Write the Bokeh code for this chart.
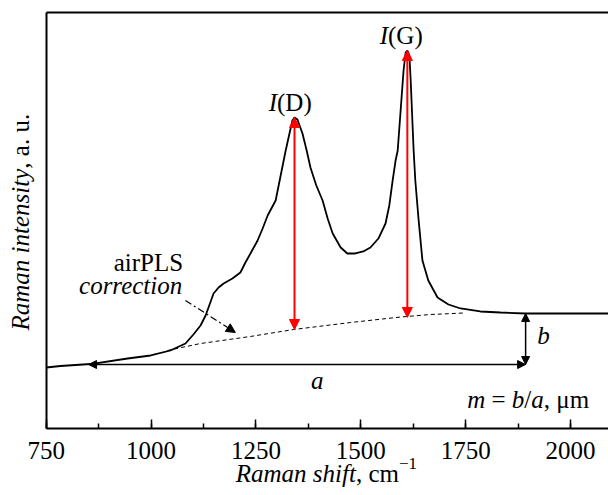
import math
from bokeh.plotting import figure
from bokeh.models import Range1d, SingleIntervalTicker, Label, Arrow, NormalHead, LinearAxis
from bokeh.embed import file_html
from bokeh.resources import INLINE

# ---------------- data ----------------
shift = [750, 784, 856, 944, 999, 1046, 1082, 1101, 1118, 1130, 1137, 1149, 1161, 1173,
         1194, 1213, 1225, 1237, 1254, 1266, 1278, 1297, 1309, 1321, 1330, 1337, 1342,
         1349, 1361, 1371, 1380, 1394, 1409, 1421, 1433, 1452, 1468, 1487, 1506, 1523,
         1542, 1559, 1568, 1576, 1583, 1588, 1595, 1602, 1607, 1611, 1616, 1619, 1623,
         1626, 1630, 1638, 1647, 1661, 1683, 1709, 1738, 1785, 1833, 1893, 1976, 2090]
intensity = [14.66, 15.02, 15.50, 16.83, 17.55, 18.75, 20.43, 22.60, 24.76, 27.16, 29.09,
             32.45, 33.89, 34.86, 36.06, 37.50, 39.90, 42.07, 45.19, 48.08, 51.20, 54.81,
             60.82, 66.83, 70.91, 74.04, 74.76, 74.28, 70.91, 66.83, 62.74, 58.41, 54.81,
             50.48, 46.88, 43.51, 42.07, 42.07, 42.55, 43.51, 45.67, 49.28, 53.61, 59.62,
             64.42, 66.83, 76.44, 86.06, 90.38, 90.87, 89.66, 83.65, 74.04, 66.83, 59.62,
             50.00, 40.38, 35.58, 31.49, 29.81, 28.85, 28.13, 27.88, 27.64, 27.64, 27.64]

# airPLS baseline
base_shift = [1039, 1118, 1237, 1340, 1476, 1595, 1666, 1745]
base_int = [18.75, 20.43, 22.12, 23.80, 25.48, 26.80, 27.40, 27.76]

# band intensities I(D), I(G)
peak_labels = ["D", "G"]
peak_shift = [1342, 1611]
peak_int = [74.76, 90.87]
peak_base = [23.80, 26.70]

# a / b construction
a_from, a_to, a_level = 851, 1893, 15.38
b_top = 27.64

# axis
x_first, y_top = 750, 100
tick_step = 250

# ---------------- figure geometry ----------------
W, H = 608, 495
PXX = 0.41944          # px per cm^-1
PXY = 4.16             # px per intensity unit
X0 = x_first - 45.7 / PXX
X1 = X0 + W / PXX
Y1 = 428 / PXY
Y0 = Y1 - H / PXY

p = figure(width=W, height=H, x_range=Range1d(X0, X1), y_range=Range1d(Y0, Y1),
           output_backend="svg", toolbar_location=None,
           min_border_left=0, min_border_right=0, min_border_top=0, min_border_bottom=0)
p.outline_line_color = None
p.grid.visible = False
p.background_fill_color = "white"

SERIF = "Liberation Serif"

xa = p.xaxis[0]
xa.fixed_location = 0
xa.bounds = (x_first, X1)
xa.ticker = SingleIntervalTicker(interval=tick_step, num_minor_ticks=2)
xa.axis_line_width = 2
xa.axis_line_color = "black"
xa.major_tick_in = 9
xa.major_tick_out = 0
xa.minor_tick_in = 5
xa.minor_tick_out = 0
xa.major_tick_line_width = 1.5
xa.minor_tick_line_width = 1.5
xa.major_tick_line_color = "black"
xa.minor_tick_line_color = "black"
xa.major_label_text_font = SERIF
xa.major_label_text_font_size = "25px"
xa.major_label_text_color = "black"
xa.major_label_standoff = 13

ya = p.yaxis[0]
ya.fixed_location = x_first
ya.bounds = (0, y_top)
ya.ticker = []
ya.axis_line_width = 2
ya.axis_line_color = "black"
ya.major_tick_line_color = None
ya.minor_tick_line_color = None
ya.major_label_text_font_size = "0px"

top = LinearAxis(fixed_location=y_top, bounds=(x_first, X1), ticker=[],
                 axis_line_width=2, axis_line_color="black",
                 major_tick_line_color=None, minor_tick_line_color=None,
                 major_label_text_font_size="0px")
p.add_layout(top, "above")

# spectrum and baseline
p.line(shift, intensity, line_color="black", line_width=1.8)
p.line(base_shift, base_int, line_color="black", line_width=1, line_dash="4 3")

# red arrows I(D), I(G)
for xs, yt, yb in zip(peak_shift, peak_int, peak_base):
    p.add_layout(Arrow(x_start=xs, y_start=yb, x_end=xs, y_end=yt,
                       line_color="red", line_width=2,
                       start=NormalHead(size=10, fill_color="red", line_color="red"),
                       end=NormalHead(size=10, fill_color="red", line_color="red")))

# a arrow
p.add_layout(Arrow(x_start=a_from, y_start=a_level, x_end=a_to, y_end=a_level,
                   line_color="black", line_width=1.5,
                   start=NormalHead(size=8, fill_color="black", line_color="black"),
                   end=NormalHead(size=8, fill_color="black", line_color="black")))
# b arrow
p.add_layout(Arrow(x_start=a_to, y_start=a_level, x_end=a_to, y_end=b_top,
                   line_color="black", line_width=1.5,
                   start=NormalHead(size=8, fill_color="black", line_color="black"),
                   end=NormalHead(size=8, fill_color="black", line_color="black")))
# airPLS pointer (dash-dot)
p.add_layout(Arrow(x_start=1082, y_start=30.77, x_end=1201, y_end=23.08,
                   line_color="black", line_width=1.2, line_dash="7 3 2 3",
                   end=NormalHead(size=9, fill_color="black", line_color="black")))

# ---------------- rich text helper ----------------
REG = {" ": 250, "(": 333, ")": 333, ",": 250, ".": 250, "/": 278, "=": 564, "\u2212": 564,
       "1": 500, "a": 444, "c": 444, "m": 778, "u": 500, "D": 722, "G": 722, "L": 611,
       "P": 556, "S": 556, "i": 278, "r": 333, "\u03bc": 500}
ITA = {" ": 250, "I": 333, "R": 611, "a": 500, "m": 722, "n": 500, "s": 389, "h": 500,
       "i": 278, "f": 278, "t": 278, "e": 444, "y": 444, "c": 444, "o": 500, "r": 389,
       "b": 500}
BL = 8  # px correction of the rendered alphabetic baseline


def width(text, italic, size):
    table = ITA if italic else REG
    return sum(table.get(ch, 500) for ch in text) / 1000.0 * size


def rich(parts, x, y, align="left", vertical=False):
    # parts: (text, italic, size, raise_px)
    total = sum(width(t, it, s) for t, it, s, _ in parts)
    off = 0.0
    if align == "center":
        off = -total / 2
    elif align == "right":
        off = -total
    for t, it, s, dy in parts:
        core = t.strip(" ")
        lead = width(t[:len(t) - len(t.lstrip(" "))], it, s)
        o = off + lead
        if vertical:
            lx, ly = x - (dy + BL) / PXX, y + o / PXY
            ang = math.pi / 2
        else:
            lx, ly = x + o / PXX, y + (dy + BL) / PXY
            ang = 0
        p.add_layout(Label(x=lx, y=ly, text=core, text_font=SERIF,
                           text_font_style="italic" if it else "normal",
                           text_font_size=f"{s}px", text_color="black",
                           text_align="left", text_baseline="alphabetic", angle=ang))
        off += width(t, it, s)


FS = 25
for name, xs, yl in zip(peak_labels, [1280.5, 1545.1], [76.44, 92.55]):
    rich([("I", True, FS, 0), ("(" + name + ")", False, FS, 0)], xs, yl)

rich([("airPLS", False, FS, 0)], 1076.6, 37.98, align="right")
rich([("correction", True, FS, 0)], 1076.6, 32.45, align="right")
rich([("a", True, FS, 0)], 1396, 9.62, align="center")
rich([("b", True, FS, 0)], 1920.6, 20.43)
rich([("m", True, FS, 0), (" = ", False, FS, 0), ("b", True, FS, 0), ("/", False, FS, 0),
      ("a", True, FS, 0), (", \u03bcm", False, FS, 0)], 1898.0, 5.05, align="center")

# axis titles
rich([("Raman shift", True, FS, 0), (", cm", False, FS, 0), ("\u22121", False, 17, 10)],
     1418.0, -12.75, align="center")
rich([("Raman intensity", True, FS, 0), (", a. u.", False, FS, 0)],
     708.3, 23.56, vertical=True)

open("out.html", "w").write(file_html(p, INLINE))
